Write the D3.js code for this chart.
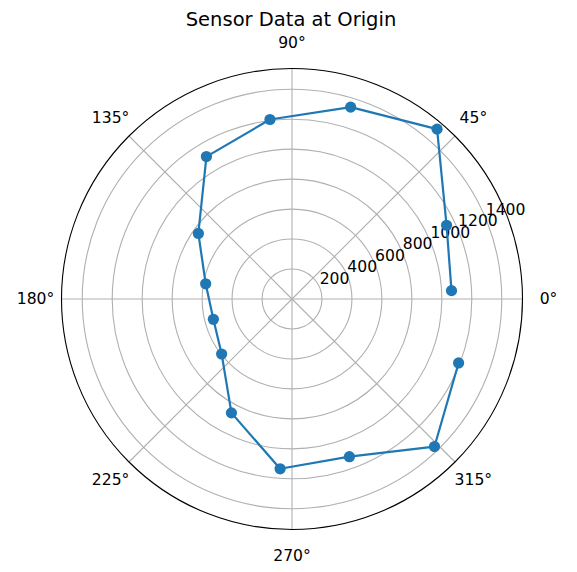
<!DOCTYPE html>
<html>
<head>
<meta charset="utf-8">
<script src="https://cdn.jsdelivr.net/npm/d3@7"></script>
<style>
  body { margin: 0; background: #fff; }
  svg { display: block; }
  text { font-family: "DejaVu Sans", sans-serif; fill: #000; }
</style>
</head>
<body>
<script>
// sensor readings, angle in degrees (counter-clockwise from east)
var angles = [3, 25.5, 49.5, 73, 97, 121, 145, 170, 194.5, 218, 242, 266, 290, 314, 339];
var readings = [1066, 1143, 1491, 1339, 1207, 1109, 763, 585, 542, 596, 861, 1136, 1120, 1369, 1191];

var radialTicks = [200, 400, 600, 800, 1000, 1200, 1400];
var angleTicks = [0, 45, 90, 135, 180, 225, 270, 315];
var title = 'Sensor Data at Origin';

var width = 577, height = 572;
var cx = 292, cy = 299, R = 230.5;

var svg = d3.select('body').append('svg')
	.attr('width', width)
	.attr('height', height);

// matplotlib style autoscale: max plus 5% of data range
var rmin = d3.min(readings), rmax = d3.max(readings);
var r = d3.scaleLinear()
	.domain([0, rmax + 0.05 * (rmax - rmin)])
	.range([0, R]);

var rad = function(deg){ return deg * Math.PI / 180; };
var px = function(deg, rr){ return cx + rr * Math.cos(rad(deg)); };
var py = function(deg, rr){ return cy - rr * Math.sin(rad(deg)); };

var g = svg.append('g');

// circular grid
g.selectAll('circle.grid')
	.data(radialTicks)
	.enter().append('circle')
	.attr('class', 'grid')
	.attr('cx', cx).attr('cy', cy)
	.attr('r', function(d){ return r(d); })
	.style('fill', 'none')
	.style('stroke', '#b0b0b0')
	.style('stroke-width', 1.1);

// spokes
g.selectAll('line.spoke')
	.data(angleTicks)
	.enter().append('line')
	.attr('class', 'spoke')
	.attr('x1', cx).attr('y1', cy)
	.attr('x2', function(d){ return px(d, R); })
	.attr('y2', function(d){ return py(d, R); })
	.style('stroke', '#b0b0b0')
	.style('stroke-width', 1.1);

// outer frame
g.append('circle')
	.attr('cx', cx).attr('cy', cy).attr('r', R)
	.style('fill', 'none')
	.style('stroke', '#000')
	.style('stroke-width', 1.1);

// angle labels
g.selectAll('text.theta')
	.data(angleTicks)
	.enter().append('text')
	.attr('class', 'theta')
	.attr('x', function(d){ return px(d, R + 26); })
	.attr('y', function(d){ return py(d, R + 26); })
	.attr('text-anchor', 'middle')
	.attr('dominant-baseline', 'central')
	.style('font-size', '15.6px')
	.text(function(d){ return d + '°'; });

// radial labels along 22.5 degrees
g.selectAll('text.rlabel')
	.data(radialTicks)
	.enter().append('text')
	.attr('class', 'rlabel')
	.attr('x', function(d){ return px(22.5, r(d)); })
	.attr('y', function(d){ return py(22.5, r(d)) - 4; })
	.attr('text-anchor', 'start')
	.style('font-size', '15.6px')
	.text(function(d){ return d; });

// data line
var pts = angles.map(function(a, i){ return [a, readings[i]]; });

var line = d3.lineRadial()
	.angle(function(d){ return Math.PI / 2 - rad(d[0]); })
	.radius(function(d){ return r(d[1]); });

g.append('path')
	.attr('transform', 'translate(' + cx + ',' + cy + ')')
	.attr('d', line(pts))
	.style('fill', 'none')
	.style('stroke', '#1f77b4')
	.style('stroke-width', 2.2)
	.style('stroke-linejoin', 'round');

g.selectAll('circle.pt')
	.data(pts)
	.enter().append('circle')
	.attr('class', 'pt')
	.attr('cx', function(d){ return px(d[0], r(d[1])); })
	.attr('cy', function(d){ return py(d[0], r(d[1])); })
	.attr('r', 5.6)
	.style('fill', '#1f77b4');

svg.append('text')
	.attr('x', 291)
	.attr('y', 26)
	.attr('text-anchor', 'middle')
	.style('font-size', '19.5px')
	.text(title);
</script>
</body>
</html>
